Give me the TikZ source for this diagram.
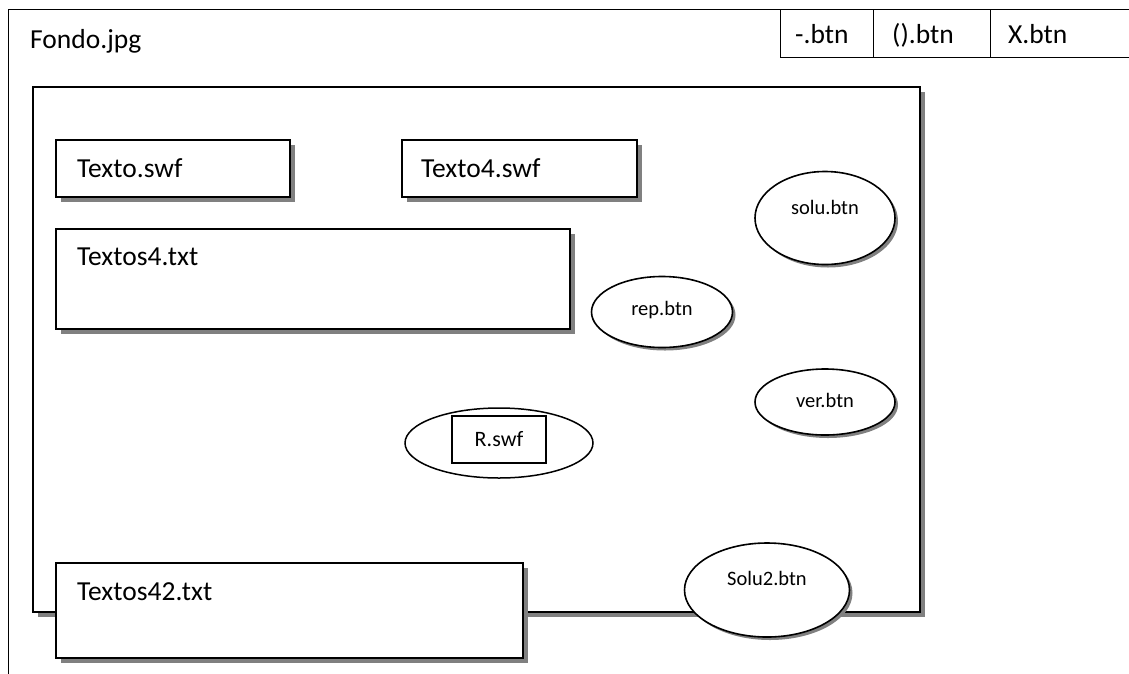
\documentclass[tikz,border=0pt]{standalone}
\usepackage{fontspec}
\setmainfont{Carlito}
\usetikzlibrary{shadows,shapes.geometric}

\tikzset{
  bigtext/.style={font=\fontsize{27.5}{33}\selectfont},
  midtext/.style={font=\fontsize{22}{26}\selectfont},
  smalltext/.style={font=\fontsize{20.5}{24}\selectfont},
  boxshadow/.style={drop shadow={shadow xshift=5pt, shadow yshift=-5pt, fill=black!50, opacity=1}},
  ovalshadow/.style={drop shadow={shadow xshift=3pt, shadow yshift=-3pt, fill=black!50, opacity=1}},
  panel/.style={draw, line width=1.6pt, fill=white, boxshadow, rectangle, inner sep=0pt, anchor=north west},
  oval/.style={draw, line width=1.6pt, fill=white, ovalshadow, ellipse, inner sep=0pt},
  plainoval/.style={draw, line width=1.5pt, fill=white, ellipse, inner sep=0pt},
  tab/.style={draw, line width=1.3pt, rectangle, inner sep=0pt, anchor=north west, minimum height=48pt},
  boxcap/.style={bigtext, anchor=west, inner sep=0pt, text height=19pt, text depth=0pt},
  ovalcap/.style={smalltext, anchor=center, inner sep=0pt},
}

\begin{document}
\begin{tikzpicture}[x=1pt, y=-1pt]
\useasboundingbox (0,0) rectangle (1129,673);

% background frame
\node[draw, line width=1.3pt, anchor=north west, inner sep=0pt,
      minimum width=1200pt, minimum height=700pt,
      label={[boxcap, xshift=22pt, yshift=-29.5pt]north west:Fondo.jpg}] (fondo) at (8,9) {};

% window buttons
\node[tab, minimum width=93pt,  label={[boxcap, xshift=15pt]west:-.btn}] (bmin) at (780,9) {};
\node[tab, minimum width=117pt, label={[boxcap, xshift=19pt]west:().btn}] (bmax) at (873,9) {};
\node[tab, minimum width=200pt, label={[boxcap, xshift=18pt]west:X.btn}] (bclose) at (990,9) {};

% stage
\node[panel, minimum width=887pt, minimum height=525pt] (stage) at (32,86) {};

% text panels
\node[panel, minimum width=234pt, minimum height=57pt,
      label={[boxcap, xshift=22pt]west:Texto.swf}] (texto) at (55,139) {};
\node[panel, minimum width=235pt, minimum height=57pt,
      label={[boxcap, xshift=20pt]west:Texto4.swf}] (texto4) at (401,139) {};
\node[panel, minimum width=514pt, minimum height=100pt,
      label={[boxcap, xshift=22pt, yshift=-28pt]north west:Textos4.txt}] (textos4) at (55,228) {};

% buttons on the stage
\node[oval, minimum width=140pt, minimum height=93pt,
      label={[ovalcap, yshift=11pt]center:solu.btn}] (solu) at (825,218) {};
\node[oval, minimum width=141pt, minimum height=71pt,
      label={[ovalcap, yshift=2pt]center:rep.btn}] (rep) at (662,312) {};
\node[oval, minimum width=140pt, minimum height=66pt,
      label={[ovalcap, yshift=2pt]center:ver.btn}] (ver) at (825,402) {};

% R clip inside its oval
\node[plainoval, minimum width=188pt, minimum height=70pt] (roval) at (499,443) {};
\node[draw, line width=1.5pt, fill=white, rectangle, inner sep=0pt,
      minimum width=94pt, minimum height=47pt, midtext] (rswf) at (499,439.5) {R.swf};

% bottom panel and button
\node[panel, minimum width=467pt, minimum height=95pt,
      label={[boxcap, xshift=22pt, yshift=-29pt]north west:Textos42.txt}] (textos42) at (55,562) {};
\node[oval, minimum width=165pt, minimum height=94pt,
      label={[ovalcap, yshift=12pt]center:Solu2.btn}] (solu2) at (767,590) {};
\end{tikzpicture}
\end{document}
